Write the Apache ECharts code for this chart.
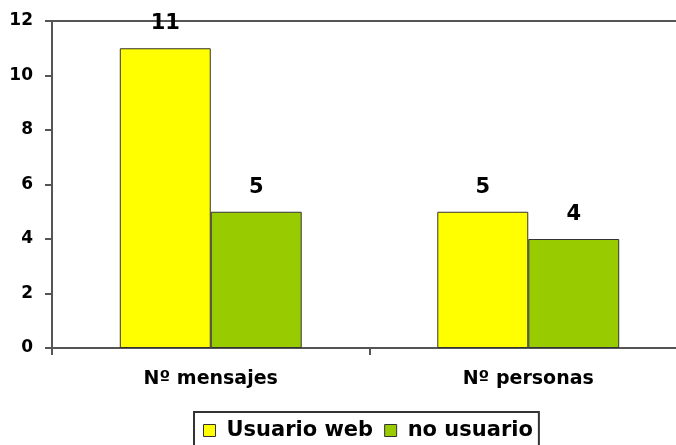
<!DOCTYPE html>
<html>
<head>
<meta charset="utf-8">
<script src="https://cdn.jsdelivr.net/npm/echarts@6/dist/echarts.min.js"></script>
<style>
  html, body { margin: 0; padding: 0; background: #fff; }
  #chart { width: 676px; height: 445px; }
</style>
</head>
<body>
<div id="chart"></div>
<script>
// Categories and series values
const categories = ['Nº mensajes', 'Nº personas'];
const seriesNames = ['Usuario web', 'no usuario'];
const usuarioWeb = [11, 5];
const noUsuario = [5, 4];
const yTicks = [0, 2, 4, 6, 8, 10, 12];

const FONT = "'DejaVu Sans', 'Liberation Sans', sans-serif";
const AXIS = '#555';

const chart = echarts.init(document.getElementById('chart'), null, { renderer: 'canvas' });

const labelStyle = {
  show: true,
  position: 'top',
  distance: 14,
  color: '#000',
  fontFamily: FONT,
  fontWeight: 'bold',
  fontSize: 21
};

chart.setOption({
  animation: false,
  backgroundColor: '#fff',
  // plot area runs past the right edge of the canvas
  grid: {
    left: 52, top: 21, width: 635, bottom: 97,
    outerBoundsMode: 'none', containLabel: false,
    show: true, borderColor: AXIS, borderWidth: 2
  },
  legend: {
    left: 194, top: 412,
    padding: [8, 6, 30, 9],
    borderColor: '#333', borderWidth: 2,
    itemWidth: 12, itemHeight: 12, itemGap: 11,
    icon: 'rect',
    itemStyle: { borderColor: '#333', borderWidth: 1 },
    textStyle: {
      color: '#000', fontFamily: FONT, fontWeight: 'bold', fontSize: 21,
      padding: [0, 0, 0, 6]
    },
    data: seriesNames
  },
  xAxis: {
    type: 'category',
    data: categories,
    axisLine: { lineStyle: { color: AXIS, width: 2 } },
    axisTick: { show: true, length: 7, lineStyle: { color: AXIS, width: 2 } },
    axisLabel: {
      margin: 22, color: '#000', fontFamily: FONT, fontWeight: 'bold', fontSize: 19
    }
  },
  yAxis: {
    type: 'value',
    min: yTicks[0], max: yTicks[yTicks.length - 1], interval: 2,
    axisLine: { show: true, lineStyle: { color: AXIS, width: 2 } },
    axisTick: { show: true, length: 7, lineStyle: { color: AXIS, width: 2 } },
    splitLine: { show: false },
    axisLabel: {
      margin: 19, color: '#000', fontFamily: FONT, fontWeight: 'bold', fontSize: 17
    }
  },
  series: [
    {
      name: seriesNames[0], type: 'bar', data: usuarioWeb,
      barGap: '0%', barCategoryGap: '42.7%',
      itemStyle: { color: '#FFFF00', borderColor: '#333', borderWidth: 1 },
      label: labelStyle
    },
    {
      name: seriesNames[1], type: 'bar', data: noUsuario,
      itemStyle: { color: '#99CC00', borderColor: '#333', borderWidth: 1 },
      label: labelStyle
    }
  ]
});
</script>
</body>
</html>
